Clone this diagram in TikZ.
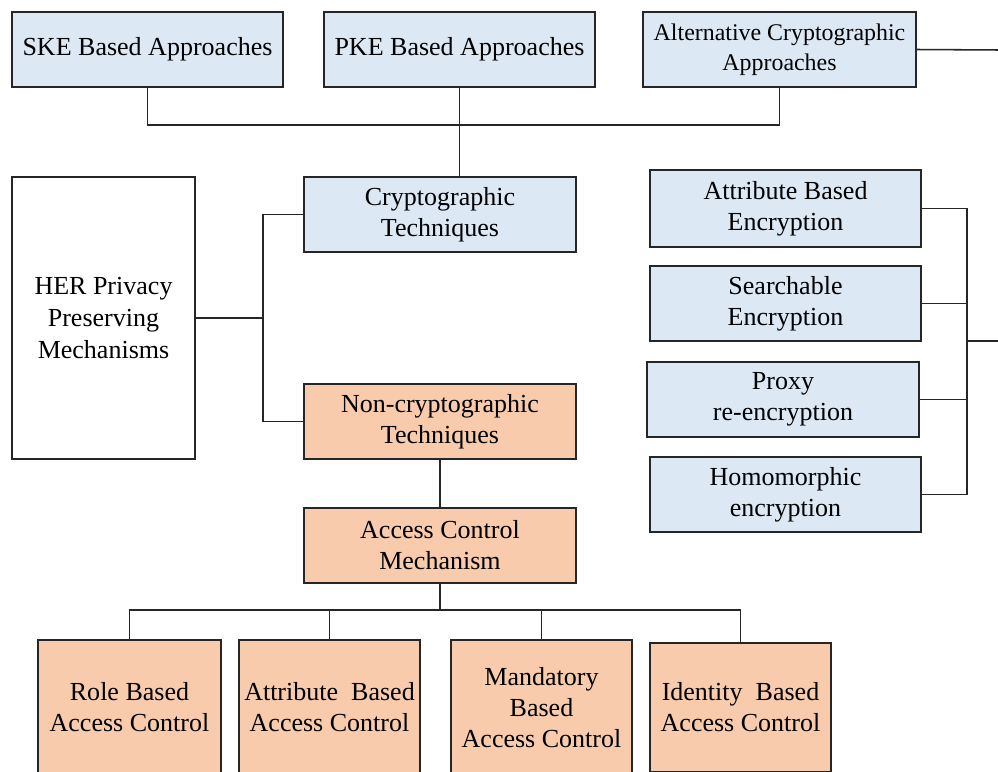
\documentclass[tikz,border=0pt]{standalone}
\usepackage{fontspec}
\setmainfont{Liberation Serif}
\usepackage{xcolor}
\usetikzlibrary{positioning,calc}
\definecolor{cryptoblue}{HTML}{DDE8F5}
\definecolor{noncryptoorange}{HTML}{F7CBAC}
\tikzset{
  box/.style={draw=black!85,line width=1.1pt,align=center,inner sep=0pt,
    font=\fontsize{18.5}{22}\selectfont},
  bluebox/.style={box,fill=cryptoblue},
  orangebox/.style={box,fill=noncryptoorange},
  link/.style={-,draw=black!85,line width=1.1pt}
}
\begin{document}
\begin{tikzpicture}[x=0.025cm,y=-0.025cm]
\useasboundingbox (0,0) rectangle (998,771);
\clip (0,0) rectangle (998,771);
% top row
\node[bluebox,minimum width=271*0.025cm,minimum height=75*0.025cm] (ske) at (147.5,49.5) {SKE Based Approaches};
\node[bluebox,minimum width=271*0.025cm,minimum height=75*0.025cm] (pke) at (459.5,49.5) {PKE Based Approaches};
\node[bluebox,minimum width=273*0.025cm,minimum height=75*0.025cm,font=\fontsize{17}{21}\selectfont] (alt) at (779.5,49.5) {Alternative Cryptographic\\Approaches};
% middle
\node[box,fill=white,minimum width=183*0.025cm,minimum height=282*0.025cm,font=\fontsize{18.5}{22.5}\selectfont] (her) at (103.5,318) {HER Privacy\\Preserving\\Mechanisms};
\node[bluebox,minimum width=272*0.025cm,minimum height=75*0.025cm] (crypto) at (440,214.5) {Cryptographic\\Techniques};
\node[orangebox,minimum width=272*0.025cm,minimum height=75*0.025cm] (noncrypto) at (440,421.5) {Non-cryptographic\\Techniques};
\node[orangebox,minimum width=272*0.025cm,minimum height=75*0.025cm] (access) at (440,545.5) {Access Control\\Mechanism};
% right column
\node[bluebox,minimum width=271*0.025cm,minimum height=77*0.025cm] (abe) at (785.5,208.5) {Attribute Based\\Encryption};
\node[bluebox,minimum width=271*0.025cm,minimum height=75*0.025cm] (search) at (785.5,303.5) {Searchable\\Encryption};
\node[bluebox,minimum width=272*0.025cm,minimum height=75*0.025cm] (proxy) at (783,399.5) {Proxy\\re-encryption};
\node[bluebox,minimum width=271*0.025cm,minimum height=75*0.025cm] (homo) at (785.5,494.5) {Homomorphic\\encryption};
% bottom row
\node[orangebox,minimum width=183*0.025cm,minimum height=135*0.025cm] (role) at (129.5,707.5) {Role Based\\Access Control};
\node[orangebox,minimum width=181*0.025cm,minimum height=135*0.025cm] (attr) at (329.5,707.5) {Attribute~~Based\\Access Control};
\node[orangebox,minimum width=181*0.025cm,minimum height=135*0.025cm] (mand) at (541.5,707.5) {Mandatory\\Based\\Access Control};
\node[orangebox,minimum width=181*0.025cm,minimum height=129*0.025cm] (ident) at (740.5,707.5) {Identity~~Based\\Access Control};
% bus points
\coordinate (topbus) at (461,125);
\coordinate (altout) at (1000,50);
\coordinate (leftbus) at (263,318);
\coordinate (botbus) at (440,610);
\coordinate (rightbus) at (967,341);
\coordinate (rightout) at (1000,341);
% connectors
\draw[link] (ske.south) |- (topbus) -| (alt.south);
\draw[link] (pke.south) -- (pke.south |- crypto.north);
\draw[link] (alt.east) -- (altout);
\draw[link] (her.east) -- (leftbus);
\draw[link] (crypto.west) -| (leftbus) |- (noncrypto.west);
\draw[link] (noncrypto.south) -- (access.north);
\draw[link] (access.south) -- (botbus);
\draw[link] (role.north) |- (botbus) -| (ident.north);
\draw[link] (attr.north) -- (attr.north |- botbus);
\draw[link] (mand.north) -- (mand.north |- botbus);
\draw[link] (abe.east) -| (rightbus) |- (homo.east);
\draw[link] (search.east) -- (search.east -| rightbus);
\draw[link] (proxy.east) -- (proxy.east -| rightbus);
\draw[link] (rightbus) -- (rightout);
\end{tikzpicture}
\end{document}
